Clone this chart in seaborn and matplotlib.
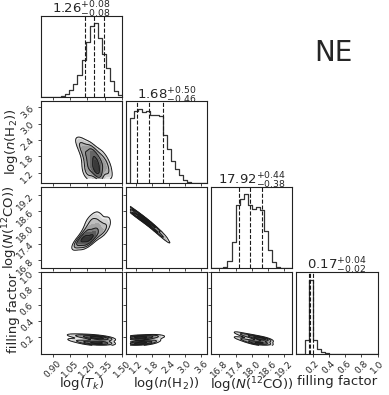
import numpy as np
import matplotlib
matplotlib.use("Agg")
import matplotlib.pyplot as plt
import seaborn as sns
from matplotlib.colors import LinearSegmentedColormap

sns.set_theme(style="ticks")
plt.rcParams["font.family"] = ["DejaVu Sans"]
plt.rcParams["axes.linewidth"] = 0.8
plt.rcParams["axes.edgecolor"] = "#222222"
plt.rcParams["xtick.major.size"] = 2.5
plt.rcParams["ytick.major.size"] = 2.5
plt.rcParams["xtick.major.width"] = 0.6
plt.rcParams["ytick.major.width"] = 0.6
plt.rcParams["xtick.major.pad"] = 1.5
plt.rcParams["ytick.major.pad"] = 1.5

# ---------------- data ----------------
param_labels = [r"log($T_k$)", r"log($n$(H$_2$))", r"log($N$($^{12}$CO))", "filling factor"]
ranges = [(0.80, 1.50), (0.825, 3.825), (16.5, 19.5), (0.0, 1.0)]
tick_values = [[0.90, 1.05, 1.20, 1.35, 1.50],
               [1.2, 1.8, 2.4, 3.0, 3.6],
               [16.8, 17.4, 18.0, 18.6, 19.2],
               [0.2, 0.4, 0.6, 0.8, 1.0]]
tick_labels = [["0.90", "1.05", "1.20", "1.35", "1.50"],
               ["1.2", "1.8", "2.4", "3.0", "3.6"],
               ["16.8", "17.4", "18.0", "18.6", "19.2"],
               ["0.2", "0.4", "0.6", "0.8", "1.0"]]
medians = [1.26, 1.68, 17.92, 0.17]
err_lo = [0.08, 0.46, 0.38, 0.02]
err_hi = [0.08, 0.50, 0.44, 0.04]

# 20-bin histogram heights (relative)
hist_tk = [0, 0, 0, 0, 0.01, 0.02, 0.04, 0.10, 0.18, 0.30,
           0.50, 0.75, 0.97, 1.00, 0.80, 0.58, 0.40, 0.22, 0.09, 0.03]
hist_nh2 = [0, 0.88, 0.97, 1.00, 0.95, 0.97, 0.92, 0.91, 0.90, 0.65,
            0.45, 0.30, 0.19, 0.10, 0.04, 0.015, 0, 0, 0, 0]
hist_nco = [0, 0, 0, 0.02, 0.10, 0.35, 0.85, 0.93, 1.00, 0.85,
            0.80, 0.82, 0.78, 0.50, 0.25, 0.08, 0.01, 0, 0, 0]
hist_ff = [0, 0, 0.18, 1.00, 0.18, 0.06, 0.02, 0.005, 0, 0,
           0, 0, 0, 0, 0, 0, 0, 0, 0, 0]
hists = [hist_tk, hist_nh2, hist_nco, hist_ff]

# 2-D posterior anchor points (x, y, weight)
tk_nh2_x = [1.11, 1.16, 1.15, 1.23, 1.18, 1.25, 1.32, 1.20, 1.28, 1.36,
            1.20, 1.28, 1.37, 1.20, 1.29, 1.38]
tk_nh2_y = [2.40, 2.40, 2.15, 2.15, 1.90, 1.90, 1.90, 1.60, 1.60, 1.60,
            1.35, 1.35, 1.35, 1.10, 1.10, 1.10]
tk_nh2_w = [0.3, 0.3, 0.5, 0.5, 0.6, 0.8, 0.5, 0.6, 1.0, 0.5,
            0.6, 1.0, 0.5, 0.6, 1.0, 0.5]

tk_nco_x = [1.12, 1.19, 1.17, 1.24, 1.19, 1.26, 1.33, 1.21, 1.28, 1.36,
            1.22, 1.29, 1.36, 1.27]
tk_nco_y = [17.42, 17.45, 17.60, 17.60, 17.80, 17.80, 17.80, 18.05, 18.05, 18.05,
            18.30, 18.32, 18.28, 18.50]
tk_nco_w = [1.0, 1.0, 1.0, 1.0, 0.7, 0.8, 0.6, 0.5, 0.6, 0.5,
            0.4, 0.5, 0.4, 0.3]

tk_ff_x = [1.02, 1.02, 1.10, 1.10, 1.18, 1.18, 1.25, 1.25, 1.32, 1.32, 1.38, 1.38]
tk_ff_y = [0.23, 0.18, 0.22, 0.16, 0.21, 0.14, 0.20, 0.13, 0.19, 0.13, 0.18, 0.13]
tk_ff_w = [0.2, 0.2, 0.4, 0.4, 0.6, 0.6, 1.0, 1.0, 1.0, 1.0, 0.5, 0.5]

nh2_nco_x = [1.00, 1.00, 1.25, 1.25, 1.50, 1.50, 1.75, 1.75, 2.00, 2.00,
             2.20, 2.20, 2.40, 2.40]
nh2_nco_y = [18.69, 18.57, 18.52, 18.40, 18.34, 18.22, 18.15, 18.03, 17.92, 17.80,
             17.71, 17.61, 17.49, 17.39]
nh2_nco_w = [1.0, 1.0, 1.0, 1.0, 1.0, 1.0, 0.9, 0.9, 0.7, 0.7,
             0.5, 0.5, 0.2, 0.2]

nh2_ff_x = [1.00, 1.00, 1.25, 1.25, 1.50, 1.50, 1.75, 1.75, 2.00, 2.00, 2.20, 2.40]
nh2_ff_y = [0.125, 0.195, 0.125, 0.195, 0.13, 0.20, 0.14, 0.205, 0.16, 0.215, 0.20, 0.22]
nh2_ff_w = [1.0, 1.0, 1.0, 1.0, 1.0, 1.0, 0.8, 0.8, 0.4, 0.4, 0.3, 0.15]

nco_ff_x = [17.40, 17.40, 17.60, 17.60, 17.80, 17.80, 18.00, 18.00, 18.20, 18.20,
            18.40, 18.40, 18.55, 18.55]
nco_ff_y = [0.26, 0.20, 0.24, 0.18, 0.22, 0.16, 0.21, 0.14, 0.19, 0.13,
            0.18, 0.13, 0.17, 0.13]
nco_ff_w = [0.3, 0.3, 0.4, 0.4, 0.5, 0.5, 0.7, 0.7, 1.0, 1.0, 1.0, 1.0, 0.7, 0.7]

pairs = {
    (1, 0): (tk_nh2_x, tk_nh2_y, tk_nh2_w),
    (2, 0): (tk_nco_x, tk_nco_y, tk_nco_w),
    (3, 0): (tk_ff_x, tk_ff_y, tk_ff_w),
    (2, 1): (nh2_nco_x, nh2_nco_y, nh2_nco_w),
    (3, 1): (nh2_ff_x, nh2_ff_y, nh2_ff_w),
    (3, 2): (nco_ff_x, nco_ff_y, nco_ff_w),
}
# lower data bounds (posterior prior edges)
clip_lo = [0.8, 0.97, 16.5, 0.10]

# ---------------- figure ----------------
fig, axes = plt.subplots(
    4, 4, figsize=(3.89, 3.95), dpi=100,
    gridspec_kw=dict(left=41 / 389, right=377.5 / 389, top=1 - 16 / 395,
                     bottom=1 - 353.5 / 395, wspace=0.05, hspace=0.05))

fill_cmap = LinearSegmentedColormap.from_list("cg", ["#f2f2f2", "#333333"])
fill_levels = [0.135, 0.22, 0.325, 0.46, 0.607, 0.75, 0.882, 0.95, 1.0]
line_levels = [0.135, 0.325, 0.607, 0.882]
BW = 0.85
n = 4
for i in range(n):
    for j in range(n):
        ax = axes[i, j]
        if j > i:
            ax.set_axis_off()
            continue
        if i == j:
            lo, hi = ranges[i]
            edges = np.linspace(lo, hi, 21)
            centers = 0.5 * (edges[:-1] + edges[1:])
            h = list(hists[i])
            sns.histplot(x=list(centers), weights=h, bins=list(edges), element="step",
                         fill=False, color="#333333", linewidth=0.9, ax=ax)
            for q in (medians[i] - err_lo[i], medians[i], medians[i] + err_hi[i]):
                ax.axvline(q, ls="--", color="k", lw=0.8)
            ax.set_ylim(0, 1.1 * max(h))
            ax.set_yticks([])
            ax.set_ylabel("")
            ax.text(0.5, 1.025,
                    r"$%.2f^{+%.2f}_{-%.2f}$" % (medians[i], err_hi[i], err_lo[i]),
                    transform=ax.transAxes, ha="center", va="baseline", fontsize=9.5)
        else:
            xs, ys, ws = pairs[(i, j)]
            clip = ((clip_lo[j], ranges[j][1]), (clip_lo[i], ranges[i][1]))
            sns.kdeplot(x=xs, y=ys, weights=ws, fill=True, levels=fill_levels,
                        cmap=fill_cmap, clip=clip, bw_adjust=BW, gridsize=120,
                        ax=ax)
            sns.kdeplot(x=xs, y=ys, weights=ws, fill=False, levels=line_levels,
                        color="k", linewidths=0.7, clip=clip, bw_adjust=BW,
                        gridsize=120, ax=ax)
            ax.set_ylim(*ranges[i])
            ax.set_yticks(tick_values[i])
            if j == 0:
                ax.set_yticklabels(tick_labels[i], rotation=45, fontsize=6.5)
                ax.set_ylabel(param_labels[i], fontsize=9.5)
                ax.yaxis.set_label_coords(-0.26, 0.5)
            else:
                ax.set_yticklabels([])
                ax.set_ylabel("")
        ax.set_xlim(*ranges[j])
        ax.set_xticks(tick_values[j])
        if i == n - 1:
            ax.set_xticklabels(tick_labels[j], rotation=45, fontsize=6.5)
            ax.set_xlabel(param_labels[j], fontsize=9.5)
            ax.xaxis.set_label_coords(0.5, -0.27)
        else:
            ax.set_xticklabels([])
            ax.set_xlabel("")
        for s in ax.spines.values():
            s.set_visible(True)

fig.text(0.857, 0.866, "NE", fontsize=20, ha="center", va="center")
fig.savefig("out.png", dpi=100)
